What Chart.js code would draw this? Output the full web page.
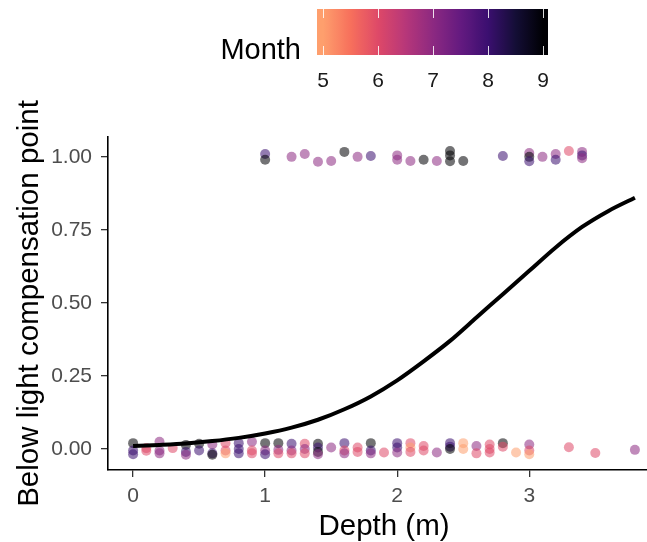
<!DOCTYPE html>
<html>
<head>
<meta charset="utf-8">
<script src="https://cdn.jsdelivr.net/npm/chart.js@4.4.1/dist/chart.umd.min.js"></script>
<style>
  html, body { margin: 0; padding: 0; background: #fff; overflow: hidden; }
  #wrap { width: 667px; height: 542px; }
</style>
</head>
<body>
<div id="wrap"><canvas id="c" width="667" height="542"></canvas></div>
<script>
// ---- Data ----
// Observations (depth in m, jittered 0/1 response, month)
const depth = [
  0.0,0.0,0.0, 0.1,0.1, 0.2,0.2,0.2, 0.3, 0.4,0.4,0.4, 0.5,0.5, 0.6,0.6,0.6,
  0.7,0.7,0.7, 0.8,0.8,0.8, 0.9,0.9,0.9, 1.0,1.0,1.0, 1.1,1.1,1.1, 1.2,1.2,1.2,
  1.3,1.3,1.3, 1.4,1.4,1.4,1.4, 1.5, 1.6,1.6,1.6, 1.7,1.7, 1.8,1.8,1.8, 1.9,
  2.0,2.0,2.0, 2.1,2.1,2.1, 2.2,2.2, 2.3, 2.4,2.4,2.4, 2.5,2.5, 2.6,2.6,
  2.7,2.7,2.7, 2.8,2.8, 2.9, 3.0,3.0,3.0, 3.3, 3.5, 3.8,
  1.0,1.0, 1.2, 1.3, 1.4, 1.5, 1.6, 1.7, 1.8, 2.0,2.0, 2.1, 2.2, 2.3,
  2.4,2.4,2.4, 2.5, 2.8, 3.0,3.0,3.0, 3.1, 3.2,3.2, 3.3, 3.4,3.4,3.4
];
const observed = [
  0.020,-0.005,-0.018, 0.003,-0.006, 0.025,-0.005,-0.015, 0.003, 0.014,-0.010,-0.020, 0.018,-0.005, 0.015,-0.015,-0.020,
  0.020,-0.005,-0.015, 0.020,0.000,-0.015, 0.025,-0.005,-0.015, 0.020,-0.005,-0.018, 0.020,-0.003,-0.015, 0.018,-0.005,-0.015,
  0.018,0.000,-0.015, 0.018,0.005,-0.010,-0.018, 0.005, 0.020,-0.005,-0.015, 0.005,-0.010, 0.020,-0.005,-0.015, -0.012,
  0.020,0.005,-0.012, 0.020,0.005,-0.010, 0.010,-0.005, -0.012, 0.020,0.008,0.000, 0.020,0.000, 0.010,-0.015,
  0.015,0.000,-0.012, 0.020,0.008, -0.012, 0.015,-0.005,-0.018, 0.006, -0.014, -0.003,
  1.010,0.990, 1.000, 1.010, 0.983, 0.986, 1.017, 1.000, 1.003, 1.005,0.990, 0.986, 0.990, 0.986,
  1.020,1.005,0.985, 0.986, 1.003, 1.013,1.000,0.985, 1.000, 1.010,0.990, 1.020, 1.017,1.005,0.995
];
const month = [
  9,8,8, 6,6, 7,7,7, 6, 9,8,7, 9,8, 7,8,9,
  6,6,5, 8,8,8, 7,6,6, 9,7,8, 9,7,6, 8,7,6,
  6,7,6, 9,8,9,7, 7, 8,6,7, 6,6, 9,8,7, 6,
  8,8,7, 6,5,6, 6,6, 7, 8,8,9, 5,5, 7,6,
  6,6,6, 9,6, 5, 7,6,5, 6, 6, 7,
  8,9, 7, 7, 7, 7, 9, 7, 8, 7,7, 7, 9, 7,
  9,9,9, 9, 8, 7,9,8, 7, 7,8, 6, 7,8,7
];

// Fitted curve (depth, probability)
const curveDepth = [0.0,0.2,0.4,0.6,0.8,1.0,1.2,1.4,1.6,1.8,2.0,2.2,2.4,2.6,2.8,3.0,3.2,3.4,3.6,3.8];
const curveProb  = [0.010,0.014,0.019,0.027,0.038,0.053,0.073,0.100,0.136,0.180,0.235,0.300,0.370,0.450,0.530,0.610,0.690,0.760,0.815,0.860];

// Axis ticks and legend
const xTicks = [0, 1, 2, 3];
const yTicks = [0, 0.25, 0.5, 0.75, 1];
const monthTicks = [5, 6, 7, 8, 9];

// ---- Styling helpers ----
const magmaStops = ['#000004','#140E36','#3B0F70','#641A80','#8C2981','#B73779','#DE4968','#F7705C','#FE9F6D'];
function hexToRgb(h){ return [parseInt(h.slice(1,3),16),parseInt(h.slice(3,5),16),parseInt(h.slice(5,7),16)]; }
function magma(t){ // t in [0, 0.8]
  const pos = Math.max(0, Math.min(magmaStops.length-1, t*10));
  const i = Math.min(magmaStops.length-2, Math.floor(pos));
  const f = pos - i;
  const a = hexToRgb(magmaStops[i]), b = hexToRgb(magmaStops[i+1]);
  return [0,1,2].map(k => Math.round(a[k] + (b[k]-a[k])*f));
}
function monthColor(m, alpha){
  const t = 0.8 * (9 - m) / 4;
  const c = magma(t);
  return 'rgba(' + c[0] + ',' + c[1] + ',' + c[2] + ',' + alpha + ')';
}

const points = depth.map((d, i) => ({x: d, y: observed[i]}));
const pointColors = month.map(m => monthColor(m, 0.55));
const curve = curveDepth.map((d, i) => ({x: d, y: curveProb[i]}));

const FONT = "'Liberation Sans', Arial, sans-serif";

const colorbarPlugin = {
  id: 'colorbar',
  afterDraw(chart){
    const ctx = chart.ctx;
    const x0 = 317, x1 = 548, y0 = 9, y1 = 55;
    const v5 = 323, v9 = 543;
    const g = ctx.createLinearGradient(v5, 0, v9, 0);
    for (let k = 0; k <= 40; k++){
      const m = 5 + 4*k/40;
      g.addColorStop(k/40, monthColor(m, 1));
    }
    ctx.save();
    ctx.fillStyle = g;
    ctx.fillRect(x0, y0, x1-x0, y1-y0);
    ctx.strokeStyle = 'rgba(255,255,255,0.85)';
    ctx.lineWidth = 1;
    ctx.font = '21px ' + FONT;
    ctx.fillStyle = '#1a1a1a';
    ctx.textAlign = 'center';
    ctx.textBaseline = 'middle';
    monthTicks.forEach(m => {
      const x = v5 + (m-5)/4*(v9-v5);
      ctx.beginPath();
      ctx.moveTo(x+0.5, y0); ctx.lineTo(x+0.5, y0+9);
      ctx.moveTo(x+0.5, y1-9); ctx.lineTo(x+0.5, y1);
      ctx.stroke();
      ctx.fillText(String(m), x, 81);
    });
    ctx.font = '29px ' + FONT;
    ctx.fillStyle = '#000';
    ctx.textAlign = 'right';
    ctx.fillText('Month', 301, 51);
    ctx.restore();
  }
};

new Chart(document.getElementById('c'), {
  type: 'scatter',
  data: {
    datasets: [
      {
        label: 'fit',
        data: curve,
        showLine: true,
        borderColor: '#000',
        borderWidth: 4,
        pointRadius: 0,
        tension: 0.3,
        fill: false,
        order: 0
      },
      {
        label: 'obs',
        data: points,
        pointRadius: 5,
        pointBorderWidth: 0,
        borderWidth: 0,
        backgroundColor: pointColors,
        pointBackgroundColor: pointColors,
        order: 1
      }
    ]
  },
  options: {
    responsive: false,
    animation: false,
    devicePixelRatio: 1,
    layout: { padding: { left: 0, right: 7, top: 137, bottom: 0 } },
    plugins: { legend: { display: false }, tooltip: { enabled: false } },
    scales: {
      x: {
        type: 'linear',
        min: -0.19, max: 3.99,
        afterFit(s){ s.height = 72; },
        afterBuildTicks(s){ s.ticks = xTicks.map(v => ({value: v})); },
        grid: { drawOnChartArea: false, drawTicks: true, tickLength: 7, color: '#333', lineWidth: 1.3 },
        border: { display: true, color: '#000', width: 1.6 },
        ticks: { color: '#4D4D4D', font: { family: FONT, size: 21 }, padding: 7, callback: v => String(v) },
        title: { display: true, text: 'Depth (m)', color: '#000', font: { family: FONT, size: 29.5, lineHeight: 1 }, padding: { top: 0, bottom: 0 } }
      },
      y: {
        type: 'linear',
        min: -0.072, max: 1.068,
        afterFit(s){ s.width = 108; },
        afterBuildTicks(s){ s.ticks = yTicks.map(v => ({value: v})); },
        grid: { drawOnChartArea: false, drawTicks: true, tickLength: 7, color: '#333', lineWidth: 1.3 },
        border: { display: true, color: '#000', width: 1.6 },
        ticks: { color: '#4D4D4D', font: { family: FONT, size: 21 }, padding: 9, callback: v => v.toFixed(2) },
        title: { display: true, text: 'Below light compensation point', color: '#000', font: { family: FONT, size: 29.5, lineHeight: 1 }, padding: { top: 15, bottom: 0 } }
      }
    }
  },
  plugins: [colorbarPlugin]
});
</script>
</body>
</html>
